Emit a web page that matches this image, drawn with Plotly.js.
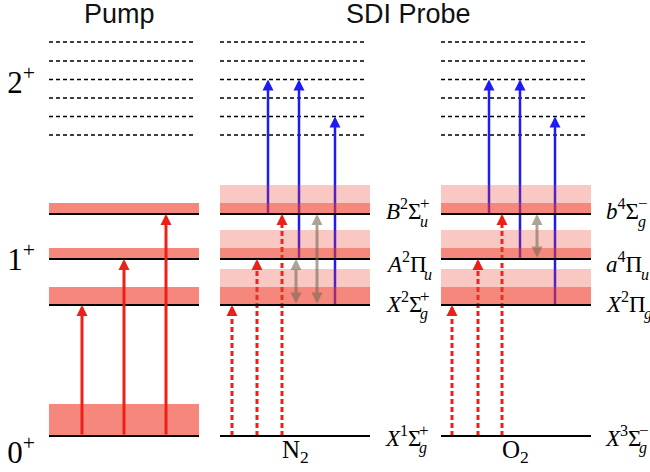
<!DOCTYPE html>
<html><head><meta charset="utf-8">
<script src="https://cdn.plot.ly/plotly-3.0.1.min.js"></script>
<style>html,body{margin:0;padding:0;background:#fff}</style>
</head><body><div id="chart" style="width:650px;height:472px"></div>
<script>
// ---------------- data ----------------
const chargeTickVals = [-16, 176.5, 354];
const chargeTickText = ['0<sup>+</sup>', '1<sup>+</sup>', '2<sup>+</sup>'];

const columnTitles = ['Pump', 'SDI Probe'];
const columnLeft = [49, 220, 441];      // Pump, N2, O2
const columnRight = [199, 370, 591];

const groundEnergy = 0;
const groundBandWidth = 32;             // pump ground-state vibrational band
const cationEnergy = [131, 177, 222];   // X, A, B levels of the 1+ manifold
const cationDarkWidth = [18, 11, 11];
const cationLightWidth = [18, 18, 18];
const dicationEnergy = [301, 319.5, 338, 356.5, 375, 394];  // 2+ levels

const pumpArrowX = [82, 124, 166];
const pumpArrowTarget = [0, 1, 2];

const n2RedX = [232, 257, 282];
const o2RedX = [452, 478, 502];
const redTarget = [0, 1, 2];

const n2BlueX = [268, 299, 335];
const o2BlueX = [489, 520, 555];
const blueFrom = [2, 1, 0];     // cation level index
const blueTo = [3, 3, 1];       // dication level index

const n2GrayX = [296, 317];
const n2GrayFrom = [1, 2];
const n2GrayTo = [0, 0];
const o2GrayX = [537];
const o2GrayFrom = [2];
const o2GrayTo = [1];

const moleculeNames = ['N<sub>2</sub>', 'O<sub>2</sub>'];
const moleculeX = [295, 515];

const n2Letter = ['X', 'A', 'B'];
const n2Mult = ['2', '2', '2'];
const n2Sym = ['Σ', 'Π', 'Σ'];
const n2Sub = ['g', 'u', 'u'];
const n2Sup = ['+', '', '+'];
const o2Letter = ['X', 'a', 'b'];
const o2Mult = ['2', '4', '4'];
const o2Sym = ['Π', 'Π', 'Σ'];
const o2Sub = ['g', 'u', 'g'];
const o2Sup = ['', '', '−'];
const stateLabelY = [131, 171, 223.5];
const groundLetter = ['X', 'X'];
const groundMult = ['1', '3'];
const groundSym = ['Σ', 'Σ'];
const groundSub = ['g', 'g'];
const groundSup = ['+', '−'];
const groundLabelY = -3;
const stateLabelX = [384, 604];

// ---------------- styles ----------------
const RED = 'rgb(237,32,25)';
const BLUE = 'rgb(28,28,245)';
const GRAY = 'rgba(120,105,85,0.6)';
const BAND_DARK = 'rgba(238,55,38,0.6)';
const BAND_LIGHT = 'rgba(238,55,38,0.275)';
const HEAD = 11;
const SERIF = 'Liberation Serif, Times New Roman, serif';
const SANS = 'Liberation Sans, Arial, sans-serif';

const traces = [];
const shapes = [];
const annotations = [];

// dotted 2+ levels
const dotX = [], dotY = [];
for (let c = 0; c < 3; c++) {
  for (const e of dicationEnergy) { dotX.push(columnLeft[c], columnRight[c] - 3, null); dotY.push(e, e, null); }
}
traces.push({type: 'scatter', mode: 'lines', x: dotX, y: dotY, hoverinfo: 'skip',
  line: {color: '#000', width: 1.5, dash: '4px,3px'}});

function headAnn(x, y, color, w, s) {
  annotations.push({x: x, y: y, ax: x, ay: y - HEAD - 1, xref: 'x', yref: 'y', axref: 'x', ayref: 'y',
    text: '', showarrow: true, arrowhead: 2, arrowsize: s, arrowwidth: w, arrowcolor: color});
}

// probe columns
const probe = [
  {c: 1, redX: n2RedX, blueX: n2BlueX, grayX: n2GrayX, gFrom: n2GrayFrom, gTo: n2GrayTo},
  {c: 2, redX: o2RedX, blueX: o2BlueX, grayX: o2GrayX, gFrom: o2GrayFrom, gTo: o2GrayTo}
];
probe.forEach(p => {
  p.blueX.forEach((bx, i) => {
    const top = dicationEnergy[blueTo[i]];
    traces.push({type: 'scatter', mode: 'lines', x: [bx, bx], y: [cationEnergy[blueFrom[i]], top - HEAD / 2],
      line: {color: BLUE, width: 2.5}, hoverinfo: 'skip'});
    headAnn(bx, top, BLUE, 2.5, 0.88);
  });
  p.redX.forEach((rx, i) => {
    const top = cationEnergy[redTarget[i]];
    traces.push({type: 'scatter', mode: 'lines', x: [rx, rx], y: [groundEnergy, top - HEAD / 2],
      line: {color: RED, width: 3, dash: '5px,3px'}, hoverinfo: 'skip'});
    headAnn(rx, top, RED, 3, 0.73);
  });
  p.grayX.forEach((gx, i) => {
    annotations.push({x: gx, y: cationEnergy[p.gFrom[i]], ax: gx, ay: cationEnergy[p.gTo[i]],
      xref: 'x', yref: 'y', axref: 'x', ayref: 'y', text: '', showarrow: true,
      arrowside: 'end+start', arrowhead: 2, startarrowhead: 2, arrowsize: 0.73, startarrowsize: 0.73,
      arrowwidth: 3, arrowcolor: GRAY});
  });
});

// bands and level lines
function rect(c, y0, y1, col) {
  shapes.push({type: 'rect', layer: 'above', xref: 'x', yref: 'y', x0: columnLeft[c], x1: columnRight[c],
    y0: y0, y1: y1, fillcolor: col, line: {width: 0}});
}
rect(0, groundEnergy, groundEnergy + groundBandWidth, BAND_DARK);
for (let c = 0; c < 3; c++) {
  cationEnergy.forEach((e, i) => {
    rect(c, e, e + cationDarkWidth[i], BAND_DARK);
    if (c > 0) rect(c, e + cationDarkWidth[i], e + cationDarkWidth[i] + cationLightWidth[i], BAND_LIGHT);
  });
}
for (let c = 0; c < 3; c++) {
  [groundEnergy].concat(cationEnergy).forEach(e => {
    shapes.push({type: 'line', layer: 'above', xref: 'x', yref: 'y', x0: columnLeft[c], x1: columnRight[c],
      y0: e, y1: e, line: {color: '#000', width: 2}});
  });
}

// pump arrows
pumpArrowX.forEach((px, i) => {
  annotations.push({x: px, y: cationEnergy[pumpArrowTarget[i]], ax: px, ay: groundEnergy,
    xref: 'x', yref: 'y', axref: 'x', ayref: 'y', text: '', showarrow: true,
    arrowhead: 2, arrowsize: 0.73, arrowwidth: 3, arrowcolor: RED});
});

// titles
annotations.push({x: 119, y: 436, xref: 'x', yref: 'y', yanchor: 'top', yshift: 3,
  text: columnTitles[0], showarrow: false, font: {family: SANS, size: 27, color: '#111'}});
annotations.push({x: 408, y: 436, xref: 'x', yref: 'y', yanchor: 'top', yshift: 3,
  text: columnTitles[1], showarrow: false, font: {family: SANS, size: 27, color: '#111'}});

// molecule names
moleculeNames.forEach((m, i) => {
  annotations.push({x: moleculeX[i], y: -15, xref: 'x', yref: 'y', yanchor: 'middle',
    text: m, showarrow: false, font: {family: SERIF, size: 25, color: '#000'}});
});

// term symbol labels
const cv = document.createElement('canvas').getContext('2d');
function tw(txt, font) { cv.font = font; return cv.measureText(txt).width; }
function stateLabel(x, y, L, m, S, sub, sup) {
  const fs = 23;
  const w = tw(L, `italic ${fs}px "Liberation Serif"`) + tw(m, `${fs * 0.7}px "Liberation Serif"`) +
    tw(S, `${fs}px "Liberation Serif"`);
  annotations.push({x: x, y: y, xref: 'x', yref: 'y', xanchor: 'left', yanchor: 'middle', yshift: 3,
    text: `<i>${L}</i><sup>${m}</sup>${S}`, showarrow: false, font: {family: SERIF, size: fs, color: '#000'}});
  if (sup) annotations.push({x: x, y: y, xref: 'x', yref: 'y', xanchor: 'left', yanchor: 'middle',
    xshift: w - 1, yshift: 9, text: sup, showarrow: false, font: {family: SERIF, size: 17, color: '#000'}});
  if (sub) annotations.push({x: x, y: y, xref: 'x', yref: 'y', xanchor: 'left', yanchor: 'middle',
    xshift: w - 1, yshift: -9, text: `<i>${sub}</i>`, showarrow: false, font: {family: SERIF, size: 16, color: '#000'}});
}
for (let i = 0; i < 3; i++) {
  stateLabel(stateLabelX[0], stateLabelY[i], n2Letter[i], n2Mult[i], n2Sym[i], n2Sub[i], n2Sup[i]);
  stateLabel(stateLabelX[1], stateLabelY[i], o2Letter[i], o2Mult[i], o2Sym[i], o2Sub[i], o2Sup[i]);
}
for (let i = 0; i < 2; i++) {
  stateLabel(stateLabelX[i] - 1, groundLabelY, groundLetter[i], groundMult[i], groundSym[i], groundSub[i], groundSup[i]);
}

const layout = {
  width: 650, height: 472,
  margin: {l: 36, r: 0, t: 0, b: 0},
  paper_bgcolor: '#fff', plot_bgcolor: '#fff',
  showlegend: false,
  xaxis: {range: [36, 650], visible: false, fixedrange: true},
  yaxis: {range: [-36, 436], tickvals: chargeTickVals, ticktext: chargeTickText, showgrid: false,
    zeroline: false, showline: false, ticks: '', fixedrange: true,
    tickfont: {family: SERIF, size: 31, color: '#000'}},
  shapes: shapes,
  annotations: annotations
};
Plotly.newPlot('chart', traces, layout, {staticPlot: true});
</script></body></html>
